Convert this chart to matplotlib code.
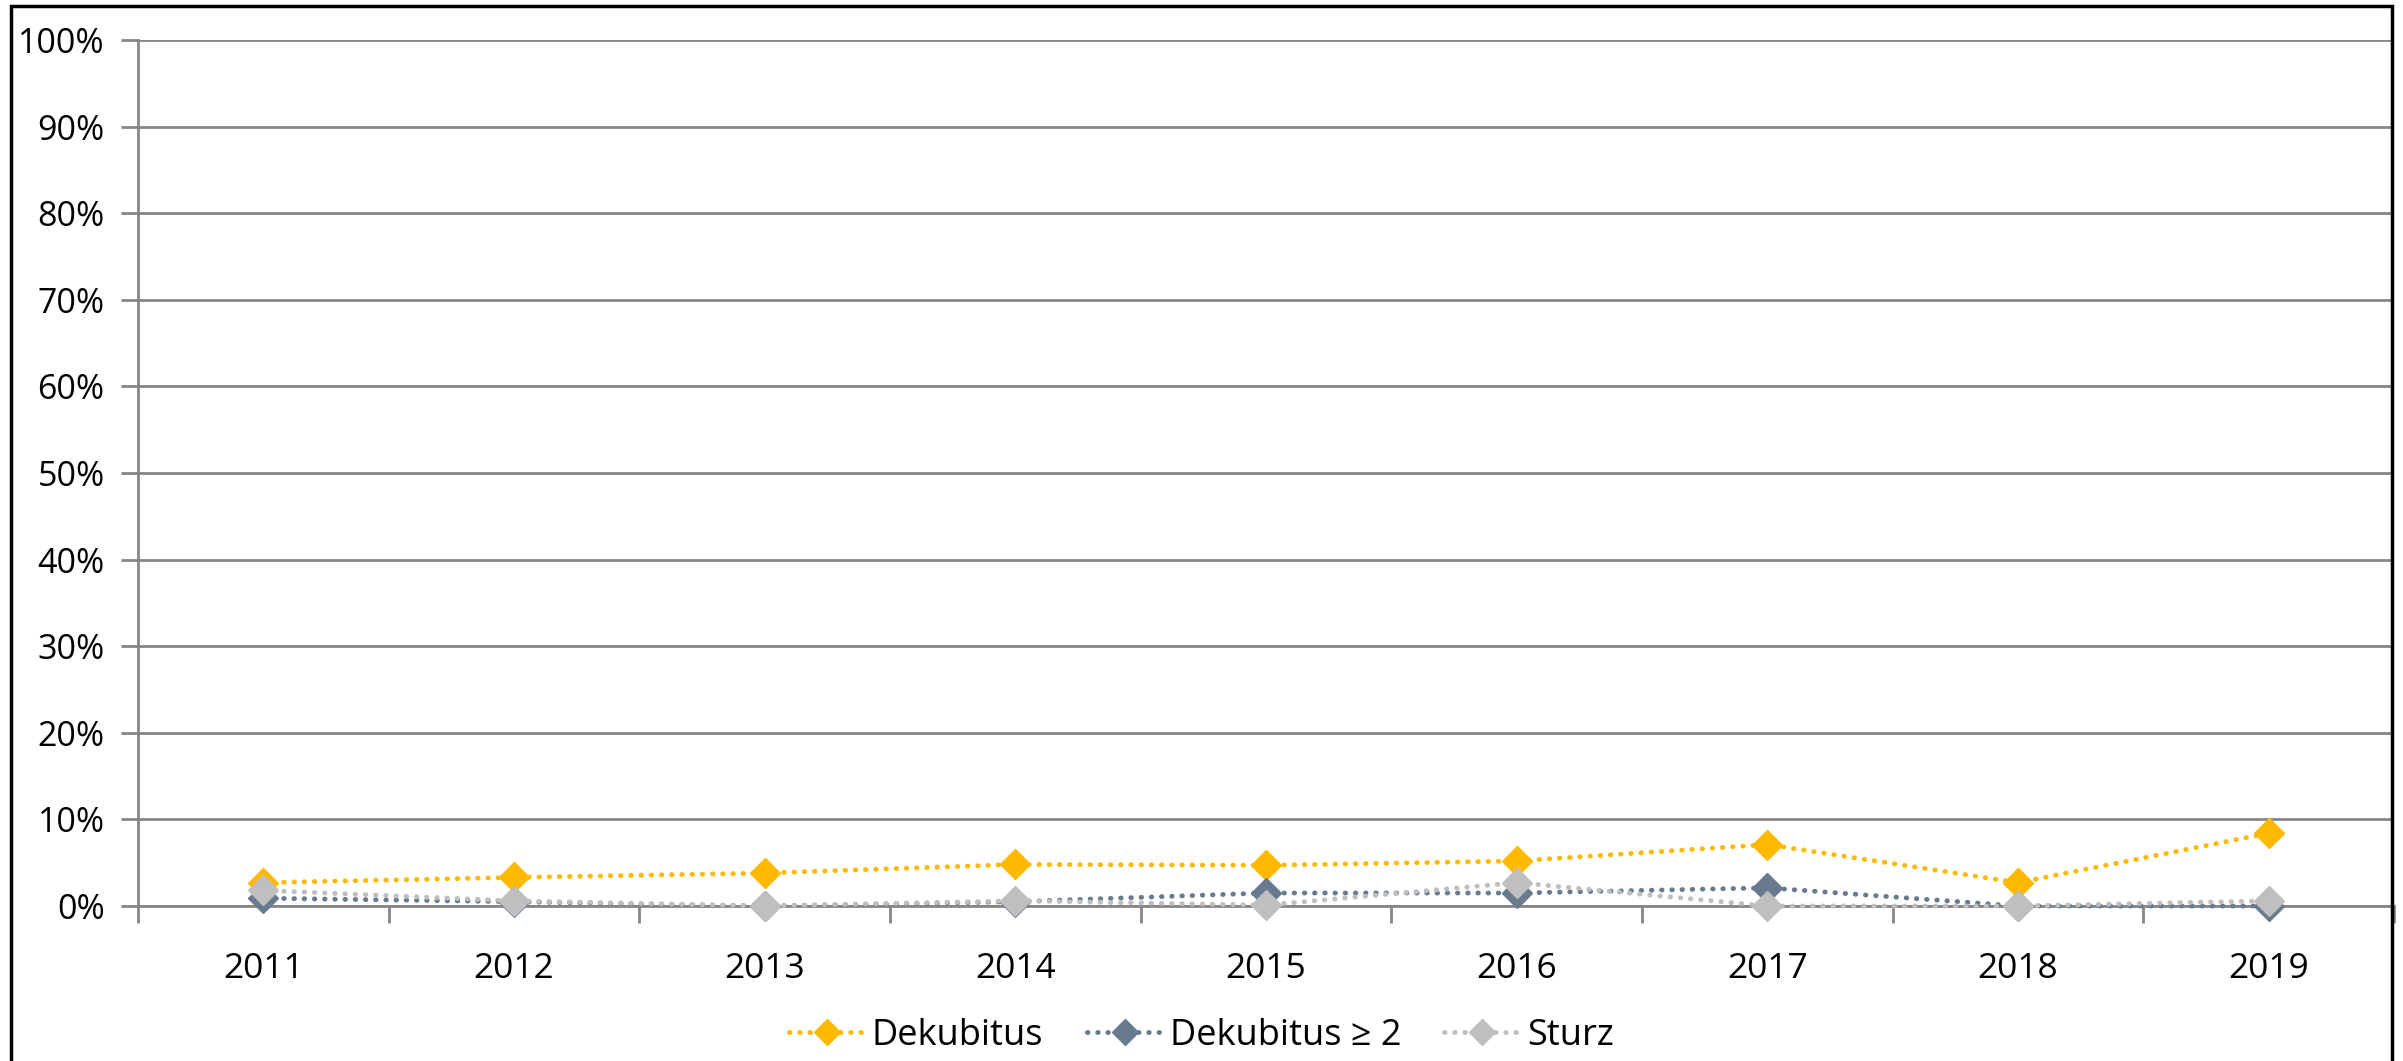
import matplotlib.pyplot as plt
from matplotlib.patches import Rectangle
from matplotlib.lines import Line2D
import numpy as np

years = ["2011", "2012", "2013", "2014", "2015", "2016", "2017", "2018", "2019"]
dekubitus = [2.7, 3.3, 3.8, 4.8, 4.7, 5.2, 7.1, 2.7, 8.4]
dekubitus_2 = [0.9, 0.5, 0.0, 0.5, 1.5, 1.5, 2.1, 0.0, 0.0]
sturz = [1.8, 0.6, 0.0, 0.6, 0.1, 2.7, 0.0, 0.0, 0.6]
y_ticks = [0, 10, 20, 30, 40, 50, 60, 70, 80, 90, 100]

series = [
    ("Dekubitus", dekubitus, "#FFB900"),
    ("Dekubitus \u2265 2", dekubitus_2, "#687A8E"),
    ("Sturz", sturz, "#BFBFBF"),
]

plt.rcParams['font.family'] = ['Open Sans', 'DejaVu Sans']

fig = plt.figure(figsize=(24.03, 10.61), dpi=100)
ax = fig.add_axes([138 / 2403, 1 - 906 / 1061, (2394 - 138) / 2403, (906 - 40) / 1061])

dots = (0, (0.1, 2.0))
x = np.arange(len(years))
for name, vals, col in series:
    ax.plot(x, vals, color=col, linestyle=dots, linewidth=3.5,
            dash_capstyle='round', marker='D', markersize=15, label=name,
            clip_on=False, zorder=3)

ax.set_xlim(-0.5, len(years) - 0.5)
ax.set_ylim(0, 100)
ax.set_yticks(y_ticks)
ax.set_yticklabels([f"{v}%" for v in y_ticks])
ax.set_xticks(x)
ax.set_xticklabels(years)
ax.set_xticks(np.arange(-0.5, len(years)), minor=True)

ax.grid(axis='y', color='#868686', linewidth=2)
ax.set_axisbelow(True)
for s in ['top', 'right']:
    ax.spines[s].set_visible(False)
for s in ['left', 'bottom']:
    ax.spines[s].set_color('#868686')
    ax.spines[s].set_linewidth(2)

ax.tick_params(axis='y', labelsize=24.5, length=12, width=2, color='#868686', pad=12)
ax.tick_params(axis='x', which='major', labelsize=25.5, length=0, pad=33)
ax.tick_params(axis='x', which='minor', length=12, width=2, color='#868686')

handles = [Line2D([0], [0], color=c, linestyle=dots, linewidth=3.5,
                  dash_capstyle='round', marker='D', markersize=13) for _, _, c in series]
fig.legend(handles, [n for n, _, _ in series], loc='center', bbox_to_anchor=(0.5, 1 - 1036 / 1061),
           ncol=3, frameon=False, fontsize=26, handlelength=2.1, columnspacing=1.2, handletextpad=0.2)

fig.patches.append(Rectangle((11 / 2403, -0.1), (2392 - 11) / 2403, 1.1 - 6 / 1061,
                             transform=fig.transFigure, fill=False, edgecolor='black', linewidth=2.5))

fig.savefig("out.png", dpi=100)
